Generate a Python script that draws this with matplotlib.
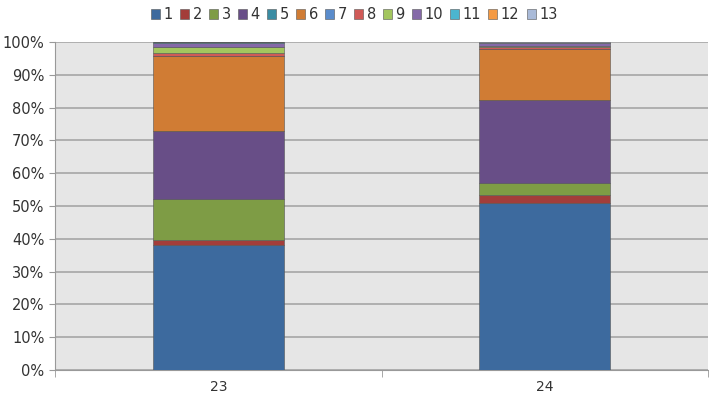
import numpy as np
import matplotlib
matplotlib.use("Agg")
import matplotlib.pyplot as plt
from matplotlib.ticker import FixedLocator

# kategooriad ja osakaalud (%), virnas alt ules 1..13
kategooriad = ["23", "24"]
seeriad = ["1", "2", "3", "4", "5", "6", "7", "8", "9", "10", "11", "12", "13"]
v23 = [38.1, 1.5, 12.5, 20.8, 0.1, 22.6, 0.1, 1.0, 1.8, 1.2, 0.2, 0.0, 0.1]
v24 = [50.9, 2.5, 3.6, 25.3, 0.0, 15.6, 0.1, 0.6, 0.1, 1.0, 0.1, 0.0, 0.2]
y_sildid = ["0%", "10%", "20%", "30%", "40%", "50%", "60%", "70%", "80%", "90%", "100%"]

varvid = ["#3d6a9e", "#a33d3a", "#7e9c45", "#684e87", "#3a8ca3", "#d07c34",
          "#5a8ccc", "#d05a57", "#a3c65e", "#8569a8", "#4bb5cf", "#f59a43", "#a9bad8"]

andmed = np.array([v23, v24])

fig = plt.figure(figsize=(7.09, 4.0), dpi=100)
ax = fig.add_axes([0.0776, 0.075, 0.921, 0.82])
ax.set_facecolor("#e6e6e6")

x = np.arange(len(kategooriad))
pohi = np.zeros(len(kategooriad))
for i, nimi in enumerate(seeriad):
    ax.bar(x, andmed[:, i], 0.4, bottom=pohi, color=varvid[i], label=nimi,
           edgecolor="#555555", linewidth=0.4, zorder=3)
    pohi += andmed[:, i]

ax.set_xlim(-0.5, 1.5)
ax.set_ylim(0, 100)
ax.set_yticks(np.arange(0, 101, 10))
ax.set_yticklabels(y_sildid, fontsize=10.5, color="#333333")
ax.yaxis.grid(True, color="#a6a6a6", linewidth=1.2, zorder=0)
ax.set_xticks(x)
ax.set_xticklabels(kategooriad, fontsize=10, color="#333333")
ax.xaxis.set_minor_locator(FixedLocator([-0.5, 0.5, 1.5]))
ax.tick_params(axis="x", which="major", length=0, pad=7)
ax.tick_params(axis="x", which="minor", length=5, color="#999999", direction="out")
ax.tick_params(axis="y", length=4, color="#999999", direction="out")

for s in ["top", "right"]:
    ax.spines[s].set_visible(False)
ax.spines["left"].set_color("#999999")
ax.spines["bottom"].set_color("#999999")

leg = fig.legend(loc="upper center", bbox_to_anchor=(0.5, 1.015), ncol=13, frameon=False,
                 fontsize=10.5, handlelength=0.6, handleheight=0.6, handletextpad=0.25,
                 columnspacing=0.5)
for t in leg.get_texts():
    t.set_color("#333333")

fig.savefig("out.png", dpi=100)
